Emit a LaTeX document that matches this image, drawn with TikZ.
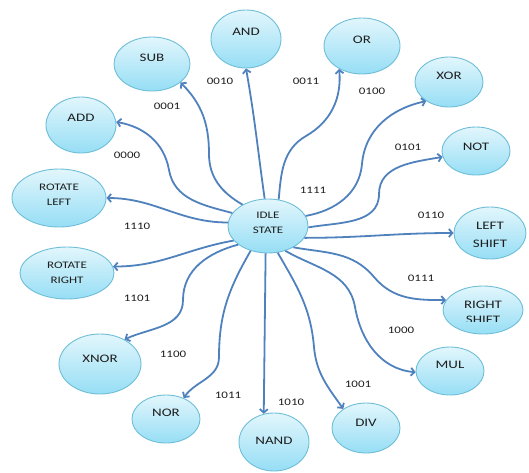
\documentclass[tikz,border=0pt]{standalone}
\usepackage{fontspec}
\setmainfont{Carlito}[FakeStretch=1.3]
\usetikzlibrary{shapes.geometric,arrows.meta}
\definecolor{linec}{RGB}{79,129,189}
\definecolor{edgec}{RGB}{110,190,216}
\definecolor{topc}{RGB}{226,246,252}
\definecolor{botc}{RGB}{150,222,245}
\definecolor{txtc}{RGB}{30,30,30}
\tikzset{
  st/.style={ellipse, draw=edgec, line width=0.9pt, top color=topc, bottom color=botc, inner sep=0pt},
  nt/.style={font=\fontsize{11.5}{15}\selectfont, text=txtc, align=center},
  ns/.style={font=\fontsize{10}{15}\selectfont, text=txtc, align=center},
  lt/.style={font=\fontsize{10}{11}\selectfont, text=txtc},
  arr/.style={draw=linec, line width=1.8pt, -{Straight Barb[length=3.5pt,width=8pt]}},
}
\begin{document}
\begin{tikzpicture}[x=1pt,y=1pt]
\useasboundingbox (0,0) rectangle (529,472);
% states
\node[st, minimum width=80pt, minimum height=54pt] (idle) at (268,246) {};
\node[ns] (idlet) at (268,249) {IDLE\\STATE};
\node[st, minimum width=70pt, minimum height=58pt] (and) at (246,433) {};
\node[nt] (andt) at (246,440) {AND};
\node[st, minimum width=76pt, minimum height=54pt] (sub) at (152,408) {};
\node[nt] (subt) at (152,414) {SUB};
\node[st, minimum width=70pt, minimum height=56pt] (add) at (81,347) {};
\node[nt] (addt) at (81,354) {ADD};
\node[st, minimum width=94pt, minimum height=58pt] (rotl) at (59,274) {};
\node[ns] (rotlt) at (59,277) {ROTATE\\LEFT};
\node[st, minimum width=94pt, minimum height=52pt] (rotr) at (67,199) {};
\node[ns] (rotrt) at (67,199) {ROTATE\\RIGHT};
\node[st, minimum width=82pt, minimum height=60pt] (xnor) at (100,108) {};
\node[nt] (xnort) at (100,113) {XNOR};
\node[st, minimum width=68pt, minimum height=48pt] (nor) at (166,53) {};
\node[nt] (nort) at (166,59) {NOR};
\node[st, minimum width=70pt, minimum height=58pt] (nand) at (274,30) {};
\node[nt] (nandt) at (274,31) {NAND};
\node[st, minimum width=68pt, minimum height=50pt] (div) at (366,44) {};
\node[nt] (divt) at (366,49) {DIV};
\node[st, minimum width=68pt, minimum height=48pt] (mul) at (450,101) {};
\node[nt] (mult) at (450,107) {MUL};
\node[st, minimum width=80pt, minimum height=48pt] (rshift) at (483,162) {};
\begin{scope}
\clip (440,151) rectangle (529,180);
\node[nt, font=\fontsize{11.5}{15}\selectfont] (rshiftt) at (483,160) {RIGHT\\SHIFT};
\end{scope}
\node[st, minimum width=72pt, minimum height=52pt] (lshift) at (490,239) {};
\begin{scope}
\clip (450,225) rectangle (529,260);
\node[nt, font=\fontsize{11.5}{18}\selectfont] (lshiftt) at (490,237) {LEFT\\SHIFT};
\end{scope}
\node[st, minimum width=68pt, minimum height=48pt] (not) at (476,321) {};
\node[nt] (nott) at (476,325) {NOT};
\node[st, minimum width=68pt, minimum height=50pt] (xor) at (449,390) {};
\node[nt] (xort) at (449,396) {XOR};
\node[st, minimum width=76pt, minimum height=56pt] (or) at (362,426) {};
\node[nt] (ort) at (362,432) {OR};
% transitions
\draw[arr] (idle.140) to[out=150,in=-90] (209,318) to[out=90,in=-45] (sub.-33);
\draw[arr] (idle.160) to[out=165,in=-80] (169,302) to[out=100,in=-10] (add.5);
\draw[arr] (idle.175) to[out=180,in=0] (rotl.east);
\draw[arr] (idle.203) to[out=190,in=0] (rotr.8);
\draw[arr] (idle.212) to[out=195,in=90] (183,172) to[out=-90,in=25] (xnor.45);
\draw[arr] (idle.235) to[out=240,in=90] (219,115) to[out=-90,in=55] (nor.50);
\draw[arr] (idle.-95) -- (nand.110);
\draw[arr] (idle.-70) to[out=-60,in=95] (314,125) to[out=-85,in=125] (div.140);
\draw[arr] (idle.-55) to[out=-30,in=100] (355,165) to[out=-80,in=175] (mul.182);
\draw[arr] (idle.-40) to[out=-10,in=130] (374,195) to[out=-50,in=180] (rshift.165);
\draw[arr] (idle.-18) to[out=0,in=180] (lshift.west);
\draw[arr] (idle.-2) to[out=10,in=-90] (379,278) to[out=90,in=190] (not.190);
\draw[arr] (idle.15) to[out=10,in=-95] (362,308) to[out=85,in=192] (xor.220);
\draw[arr] (idle.68) to[out=85,in=-150] (306,336) to[out=30,in=-85] (or.225);
\draw[arr] (idle.97) to[out=98,in=-80] (and.south);
% codes
\node[lt] (c0010) at (220,391) {0010};
\node[lt] (c0001) at (167,366) {0001};
\node[lt] (c0000) at (127,317) {0000};
\node[lt] (c1110) at (137,246) {1110};
\node[lt] (c0011) at (306,391) {0011};
\node[lt] (c0100) at (372,381) {0100};
\node[lt] (c0101) at (408,325) {0101};
\node[lt] (c1111) at (313,282) {1111};
\node[lt] (c0110) at (431,257) {0110};
\node[lt] (c0111) at (421,194) {0111};
\node[lt] (c1000) at (401,142) {1000};
\node[lt] (c1001) at (358,88) {1001};
\node[lt] (c1010) at (291,70) {1010};
\node[lt] (c1101) at (137,174) {1101};
\node[lt] (c1100) at (173,118) {1100};
\node[lt] (c1011) at (228,77) {1011};
\end{tikzpicture}
\end{document}
